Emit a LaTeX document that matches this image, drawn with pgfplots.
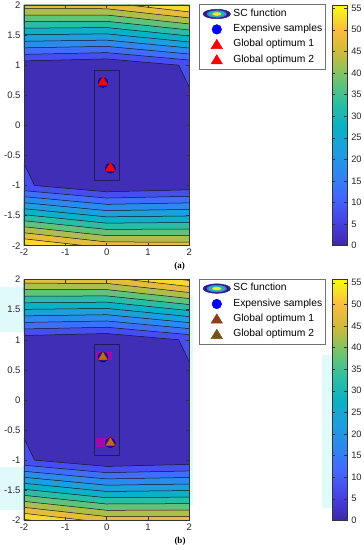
\documentclass[border=0pt]{standalone}
\usepackage{fontspec}
\setmainfont{Liberation Sans}
\newfontfamily\capfont{Liberation Serif}
\usepackage{pgfplots}
\pgfplotsset{compat=1.18}

\definecolor{B0}{RGB}{64,46,182}
\definecolor{B5}{RGB}{70,79,238}
\definecolor{B10}{RGB}{63,110,250}
\definecolor{B15}{RGB}{44,138,238}
\definecolor{B20}{RGB}{29,159,221}
\definecolor{B25}{RGB}{11,177,198}
\definecolor{B30}{RGB}{42,189,166}
\definecolor{B35}{RGB}{97,195,121}
\definecolor{B40}{RGB}{172,190,77}
\definecolor{B45}{RGB}{230,188,60}
\definecolor{B50}{RGB}{248,217,44}
\definecolor{B55}{RGB}{249,247,18}
\definecolor{cl}{RGB}{20,20,35}
\definecolor{boxc}{RGB}{35,25,95}
\definecolor{e1}{RGB}{40,32,140}
\definecolor{e2}{RGB}{90,120,215}
\definecolor{e3}{RGB}{35,180,180}
\definecolor{e4}{RGB}{235,240,40}
\definecolor{tribA}{RGB}{195,105,25}
\definecolor{tribE}{RGB}{70,35,10}
\definecolor{legb1}{RGB}{140,62,25}
\definecolor{legb2}{RGB}{112,85,22}
\definecolor{mag}{RGB}{160,10,175}
\definecolor{tint}{RGB}{224,250,250}

\pgfplotsset{
  colormap={parula}{rgb255(0pt)=(62,38,168); rgb255(10pt)=(71,66,230); rgb255(20pt)=(68,102,253);
    rgb255(30pt)=(46,135,240); rgb255(40pt)=(30,158,222); rgb255(50pt)=(10,178,196);
    rgb255(60pt)=(48,191,160); rgb255(70pt)=(115,196,107); rgb255(80pt)=(205,186,60);
    rgb255(90pt)=(252,189,61); rgb255(95pt)=(247,222,41); rgb255(100pt)=(249,251,14)},
  colorbar/width=14.4pt,
  scpanel/.style={
    scale only axis, width=165.3pt, height=240.7pt,
    xmin=-2, xmax=2, ymin=-2, ymax=2,
    xtick={-2,-1,0,1,2}, xticklabels={-2,-1,0,1,2},
    ytick={-2,-1.5,-1,-0.5,0,0.5,1,1.5,2},
    yticklabels={-2,-1.5,-1,-0.5,0,0.5,1,1.5,2},
    tick align=inside, major tick length=3pt,
    tick style={black!80, line width=0.4pt},
    axis line style={black!80, line width=0.4pt},
    axis on top,
    ticklabel style={font=\fontsize{9.5}{11}\selectfont, text=black!85},
    point meta min=0, point meta max=55.73,
    colormap name=parula,
    colorbar,
    colorbar style={at={(parent axis.north east)}, anchor=north west, xshift=134.5pt,
      scale only axis, width=14.4pt,
      ytick={0,5,10,15,20,25,30,35,40,45,50,55},
      yticklabels={0,5,10,15,20,25,30,35,40,45,50,55},
      tick align=inside, major tick length=2.5pt,
      tick style={black!80, line width=0.4pt},
      axis line style={black!80, line width=0.4pt},
      yticklabel style={font=\fontsize{9.3}{11}\selectfont, text=black!85, xshift=1pt}},
    legend style={at={(1,1)}, anchor=north west, xshift=10pt, yshift=0.7pt,
      draw=black!55, line width=0.5pt, fill=white,
      inner xsep=3.3pt, inner ysep=2.6pt, row sep=1.7pt, column sep=2.7pt,
      font=\fontsize{10.3}{12}\selectfont,
      nodes={inner sep=0pt, text height=9pt, text depth=4.7pt}},
    legend cell align=left,
  },
  legsc/.style={legend image code/.code={
    \fill[e1] (13.7pt,0) ellipse (13.7pt and 4.7pt);
    \fill[e2] (13.7pt,0) ellipse (9.6pt and 3.3pt);
    \fill[e3] (13.7pt,0) ellipse (7.6pt and 2.6pt);
    \fill[e4] (13.7pt,0) ellipse (4.2pt and 1.4pt);}},
  legcirc/.style={legend image code/.code={
    \fill[blue] (13.7pt,0) circle (4.8pt);}},
  legtri/.style={legend image code/.code={
    \fill[#1] (8pt,-3.8pt) -- (19.4pt,-3.8pt) -- (13.7pt,5.5pt) -- cycle;}},
}

% one band level, top and bottom halves (point symmetric)
\newcommand{\lev}[4]{%
  \addplot[forget plot, draw=none, fill=#1] coordinates {(-2,#2) (0,#3) (2,#4) (2,2) (-2,2)};
  \addplot[forget plot, draw=none, fill=#1] coordinates {(2,-#2) (0,-#3) (-2,-#4) (-2,-2) (2,-2)};
}
\newcommand{\levline}[3]{%
  \addplot[forget plot, cl, line width=0.5pt] coordinates {(-2,#1) (0,#2) (2,#3)};
  \addplot[forget plot, cl, line width=0.5pt] coordinates {(2,-#1) (0,-#2) (-2,-#3)};
}
\newcommand{\scplot}{%
  \addplot[forget plot, draw=none, fill=B0] coordinates {(-2,-2) (2,-2) (2,2) (-2,2)};
  \addplot[forget plot, draw=none, fill=B5] coordinates {(-2,1.0710) (0,1.1042) (1.7442,1) (2,0.6335) (2,2) (-2,2)};
  \addplot[forget plot, draw=none, fill=B5] coordinates {(2,-1.0710) (0,-1.1042) (-1.7442,-1) (-2,-0.6335) (-2,-2) (2,-2)};
  \lev{B10}{1.1797}{1.2083}{1.0853}
  \lev{B15}{1.2884}{1.3125}{1.1853}
  \lev{B20}{1.3971}{1.4167}{1.2853}
  \lev{B25}{1.5058}{1.5208}{1.3853}
  \lev{B30}{1.6145}{1.6250}{1.4853}
  \lev{B35}{1.7232}{1.7292}{1.5853}
  \lev{B40}{1.8319}{1.8333}{1.6853}
  \lev{B45}{1.9406}{1.9375}{1.7853}
  \addplot[forget plot, draw=none, fill=B50] coordinates {(0.5172,2) (2,1.8853) (2,2)};
  \addplot[forget plot, draw=none, fill=B50] coordinates {(-0.5172,-2) (-2,-1.8853) (-2,-2)};
  \addplot[forget plot, draw=none, fill=B55] coordinates {(1.8104,2) (2,1.9853) (2,2)};
  \addplot[forget plot, draw=none, fill=B55] coordinates {(-1.8104,-2) (-2,-1.9853) (-2,-2)};
  % contour lines
  \addplot[forget plot, cl, line width=0.5pt] coordinates {(-2,1.0710) (0,1.1042) (1.7442,1) (2,0.6335)};
  \addplot[forget plot, cl, line width=0.5pt] coordinates {(2,-1.0710) (0,-1.1042) (-1.7442,-1) (-2,-0.6335)};
  \levline{1.1797}{1.2083}{1.0853}
  \levline{1.2884}{1.3125}{1.1853}
  \levline{1.3971}{1.4167}{1.2853}
  \levline{1.5058}{1.5208}{1.3853}
  \levline{1.6145}{1.6250}{1.4853}
  \levline{1.7232}{1.7292}{1.5853}
  \levline{1.8319}{1.8333}{1.6853}
  \levline{1.9406}{1.9375}{1.7853}
  \addplot[forget plot, cl, line width=0.5pt] coordinates {(0.5172,2) (2,1.8853)};
  \addplot[forget plot, cl, line width=0.5pt] coordinates {(-0.5172,-2) (-2,-1.8853)};
  \addplot[forget plot, cl, line width=0.5pt] coordinates {(1.8104,2) (2,1.9853)};
  \addplot[forget plot, cl, line width=0.5pt] coordinates {(-1.8104,-2) (-2,-1.9853)};
  % search box
  \addplot[forget plot, boxc, line width=0.5pt] coordinates {(-0.3,-0.92) (0.3,-0.92) (0.3,0.92) (-0.3,0.92) (-0.3,-0.92)};
}

\begin{document}
\begin{tikzpicture}
\path[use as bounding box] (0pt,0pt) rectangle (364pt,550pt);
% faint scan tints of panel (b)
\fill[tint] (0pt,218pt) rectangle (24pt,263pt);
\fill[tint] (0pt,40pt) rectangle (24pt,83pt);
\fill[tint] (322pt,42pt) rectangle (332pt,195pt);
\fill[tint] (189.5pt,45pt) rectangle (192.5pt,255pt);

% ---------------- panel (a)
\begin{axis}[scpanel, at={(24pt,304.3pt)}, anchor=south west]
  \addlegendimage{legsc}\addlegendentry{SC function}
  \addlegendimage{legcirc}\addlegendentry{Expensive samples}
  \addlegendimage{legtri=red}\addlegendentry{Global optimum 1}
  \addlegendimage{legtri=red}\addlegendentry{Global optimum 2}
  \scplot
  \addplot[forget plot, only marks, mark=*, mark size=5pt, mark options={fill=blue, draw=black}]
    coordinates {(-0.0898,0.7126) (0.0898,-0.7126)};
  \addplot[forget plot, only marks, mark=triangle*, mark size=6pt, mark options={fill=red, draw=red!80!black}]
    coordinates {(-0.0898,0.7126)};
  \addplot[forget plot, only marks, mark=triangle*, mark size=6pt, mark options={fill=red, draw=red!80!black}]
    coordinates {(0.0898,-0.7126)};
\end{axis}
\node[font=\capfont\bfseries\fontsize{9}{10}\selectfont] at (179.5pt,283.3pt) {(a)};

% ---------------- panel (b)
\begin{axis}[scpanel, at={(24pt,29.7pt)}, anchor=south west]
  \addlegendimage{legsc}\addlegendentry{SC function}
  \addlegendimage{legcirc}\addlegendentry{Expensive samples}
  \addlegendimage{legtri=legb1}\addlegendentry{Global optimum 1}
  \addlegendimage{legtri=legb2}\addlegendentry{Global optimum 2}
  \scplot
  \addplot[forget plot, draw=none, fill=mag] coordinates {(-0.25,0.67) (0.13,0.67) (0.13,0.80) (-0.25,0.80)};
  \addplot[forget plot, draw=none, fill=mag] coordinates {(-0.25,-0.78) (0.23,-0.78) (0.23,-0.64) (-0.25,-0.64)};
  \addplot[forget plot, only marks, mark=*, mark size=5pt, mark options={fill=blue, draw=black}]
    coordinates {(-0.0898,0.7126) (0.0898,-0.7126)};
  \addplot[forget plot, only marks, mark=triangle*, mark size=6pt, mark options={fill=tribA, draw=tribE}]
    coordinates {(-0.0898,0.7126)};
  \addplot[forget plot, only marks, mark=triangle*, mark size=6pt, mark options={fill=tribA, draw=tribE}]
    coordinates {(0.0898,-0.7126)};
\end{axis}
\node[font=\capfont\bfseries\fontsize{9}{10}\selectfont] at (180pt,8.3pt) {(b)};
\end{tikzpicture}
\end{document}
